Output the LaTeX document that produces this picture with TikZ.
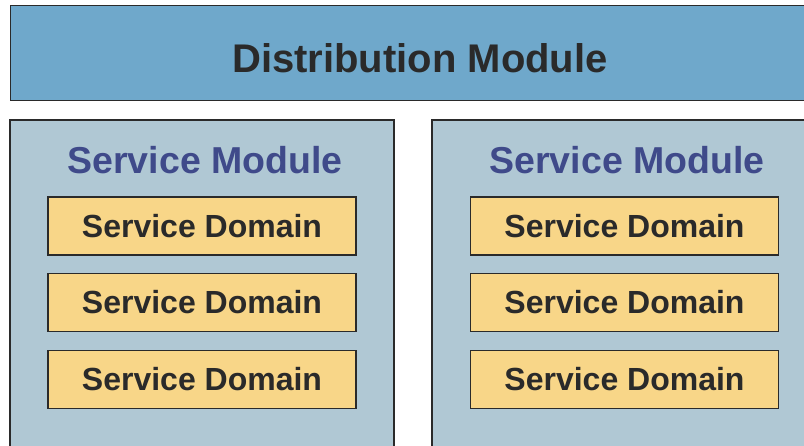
\documentclass[tikz,border=0pt]{standalone}
\usepackage{fontspec}
\setmainfont{Liberation Sans}
\definecolor{distblue}{HTML}{6FA8CB}
\definecolor{modfill}{HTML}{B0C8D4}
\definecolor{domfill}{HTML}{F8D688}
\definecolor{modtext}{HTML}{3F4A8A}
\definecolor{edge}{HTML}{2A2A2A}
\begin{document}
\begin{tikzpicture}[x=1pt,y=-1pt,
  box/.style={draw=edge,line width=1.3pt,inner sep=0pt,outer sep=0pt},
  distbox/.style={box,fill=distblue,line width=1pt},
  modbox/.style={box,fill=modfill},
  dombox/.style={box,fill=domfill,minimum width=308pt,minimum height=58pt,font=\bfseries\fontsize{32}{32}\selectfont,text=edge},
  modtitle/.style={font=\bfseries\fontsize{37.5}{37.5}\selectfont,text=modtext,anchor=base,inner sep=0pt},
  disttitle/.style={font=\bfseries\fontsize{40}{40}\selectfont,text=edge,anchor=base,inner sep=0pt}]
\useasboundingbox (0,0) rectangle (804,445);
\clip (0,0) rectangle (804,445);
\fill[white] (0,0) rectangle (804,445);
\node[distbox,anchor=north west,minimum width=820pt,minimum height=95pt] (dist) at (10,5) {};
\node[disttitle] (distlabel) at (420,72) {Distribution Module};
\node[modbox,anchor=north west,minimum width=384pt,minimum height=360pt] (modA) at (10,120) {};
\node[modbox,anchor=north west,minimum width=390pt,minimum height=360pt] (modB) at (432,120) {};
\node[modtitle] (titleA) at (205,173) {Service Module};
\node[modtitle] (titleB) at (627,173) {Service Module};
\node[dombox] (a1) at (202,226) {Service Domain};
\node[dombox] (a2) at (202,302.5) {Service Domain};
\node[dombox] (a3) at (202,379.5) {Service Domain};
\node[dombox] (b1) at (624.5,226) {Service Domain};
\node[dombox] (b2) at (624.5,302.5) {Service Domain};
\node[dombox] (b3) at (624.5,379.5) {Service Domain};
\end{tikzpicture}
\end{document}
